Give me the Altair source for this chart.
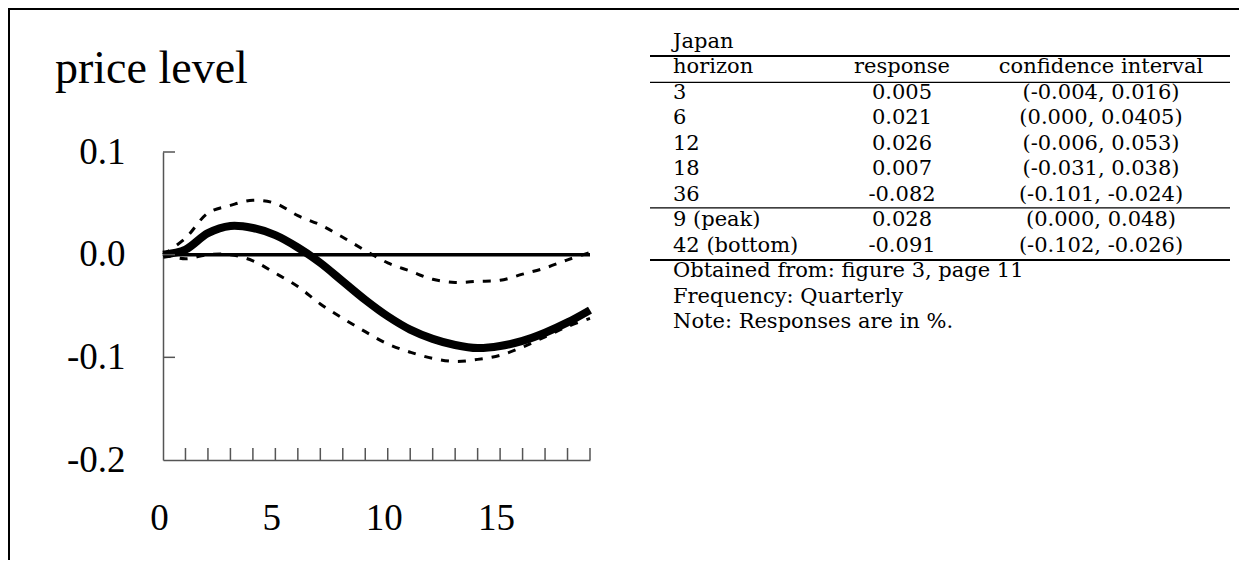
import altair as alt
import pandas as pd

# ---------------- data ----------------
quarters = list(range(20))
response = [0.000, 0.005, 0.021, 0.028, 0.026, 0.019, 0.007, -0.008, -0.026, -0.044,
            -0.060, -0.073, -0.082, -0.088, -0.091, -0.089, -0.084, -0.076, -0.066, -0.054]
upper = [0.000, 0.016, 0.0405, 0.048, 0.053, 0.050, 0.038, 0.029, 0.017, 0.004,
         -0.008, -0.016, -0.024, -0.027, -0.026, -0.025, -0.019, -0.013, -0.005, 0.002]
lower = [0.000, -0.004, 0.000, 0.000, -0.006, -0.018, -0.031, -0.048, -0.062, -0.075,
         -0.087, -0.095, -0.101, -0.104, -0.102, -0.098, -0.090, -0.080, -0.070, -0.062]

y_tick_values = [0.1, 0.0, -0.1, -0.2]
y_inner_ticks = [0.1, 0.0, -0.1]
x_label_values = [0, 5, 10, 15]
x_minor_ticks = list(range(1, 20))

title_text = "price level"

table_title = "Japan"
table_header = ["horizon", "response", "confidence interval"]
horizons = ["3", "6", "12", "18", "36", "9 (peak)", "42 (bottom)"]
responses = ["0.005", "0.021", "0.026", "0.007", "-0.082", "0.028", "-0.091"]
intervals = ["(-0.004, 0.016)", "(0.000, 0.0405)", "(-0.006, 0.053)", "(-0.031, 0.038)",
             "(-0.101, -0.024)", "(0.000, 0.048)", "(-0.102, -0.026)"]
notes = ["Obtained from: figure 3, page 11", "Frequency: Quarterly", "Note: Responses are in %."]

# ---------------- layout ----------------
W, H = 427, 308
SERIF_PLOT = "Liberation Serif"
SERIF_TABLE = "DejaVu Serif"
AXIS_GRAY = "#555555"
INTERP = "catmull-rom"

rule_lines = [0.31, 1.35, 6.28, 8.33]
rule_widths = [2.0, 1.3, 1.3, 2.0]
COL1_X, COL2_X, COL3_X = 510, 739, 938
RULE_X0, RULE_X1 = 487, 1067

xscale = alt.Scale(domain=[0, 19], nice=False, zero=False)
yscale = alt.Scale(domain=[-0.2, 0.1], nice=False, zero=False)

x_axis = alt.Axis(values=x_label_values, ticks=False, grid=False, domainColor=AXIS_GRAY,
                  domainWidth=1.5, labelFont=SERIF_PLOT, labelFontSize=37, labelColor="black",
                  labelPadding=69, labelBaseline="alphabetic", labelOffset=-4,
                  labelFlush=False, title=None)
y_axis = alt.Axis(values=y_tick_values, ticks=False, grid=False, domainColor=AXIS_GRAY,
                  domainWidth=1.5, labelFont=SERIF_PLOT, labelFontSize=37,
                  labelColor="black", labelPadding=38, labelFlush=False,
                  labelExpr="replace(format(datum.value, '.1f'), '\u2212', '-')",
                  title=None)


def x_enc(field):
    return alt.X(f"{field}:Q", scale=xscale, axis=x_axis)


def y_enc(field):
    return alt.Y(f"{field}:Q", scale=yscale, axis=y_axis)


df = pd.DataFrame({"q": quarters, "response": response, "upper": upper, "lower": lower})
base = alt.Chart(df)

upper_line = base.mark_line(color="black", strokeWidth=3, strokeDash=[8, 9],
                            interpolate=INTERP).encode(x=x_enc("q"), y=y_enc("upper"))
lower_line = base.mark_line(color="black", strokeWidth=3, strokeDash=[8, 9],
                            interpolate=INTERP).encode(x=x_enc("q"), y=y_enc("lower"))
resp_line = base.mark_line(color="black", strokeWidth=8,
                           interpolate=INTERP).encode(x=x_enc("q"), y=y_enc("response"))

zero_line = alt.Chart(pd.DataFrame({"q": [0, 19], "v": [0.0, 0.0]})).mark_line(
    color="black", strokeWidth=3.5
).encode(x=x_enc("q"), y=y_enc("v"))

y_ticks_layer = alt.Chart(pd.DataFrame({"v": y_inner_ticks})).mark_rule(
    color=AXIS_GRAY, strokeWidth=1.5
).encode(y=y_enc("v"), x=alt.value(0), x2=alt.value(12))

x_ticks_layer = alt.Chart(pd.DataFrame({"q": x_minor_ticks})).mark_rule(
    color=AXIS_GRAY, strokeWidth=1.5
).encode(x=x_enc("q"), y=alt.value(H), y2=alt.value(H - 12))

title_layer = alt.Chart(pd.DataFrame({"t": [title_text]})).mark_text(
    font=SERIF_PLOT, fontSize=46, align="left", baseline="alphabetic", color="black"
).encode(x=alt.value(-108), y=alt.value(-69), text="t:N")

border_left = alt.Chart(pd.DataFrame({"a": [0]})).mark_rule(color="black", strokeWidth=2).encode(
    x=alt.value(-154), y=alt.value(-143), y2=alt.value(420))
border_top = alt.Chart(pd.DataFrame({"a": [0]})).mark_rule(color="black", strokeWidth=2).encode(
    x=alt.value(-155), x2=alt.value(1080), y=alt.value(-143))

plot = alt.layer(zero_line, upper_line, lower_line, resp_line, y_ticks_layer, x_ticks_layer,
                 title_layer, border_left, border_top)

# ---------------- table ----------------
col1 = [table_title, table_header[0]] + horizons + notes
col1_lines = [0, 1] + list(range(2, 9)) + [9, 10, 11]
col2 = [table_header[1]] + responses
col3 = [table_header[2]] + intervals
col23_lines = [1] + list(range(2, 9))

tscale = alt.Scale(domain=[0, 11], range=[-104, 176])


def t_y():
    return alt.Y("line:Q", scale=tscale, axis=None)


t1 = alt.Chart(pd.DataFrame({"line": col1_lines, "txt": col1})).mark_text(
    font=SERIF_TABLE, fontSize=21, align="left", baseline="alphabetic", color="black"
).encode(x=alt.value(COL1_X), y=t_y(), text="txt:N")
t2 = alt.Chart(pd.DataFrame({"line": col23_lines, "txt": col2})).mark_text(
    font=SERIF_TABLE, fontSize=21, align="center", baseline="alphabetic", color="black"
).encode(x=alt.value(COL2_X), y=t_y(), text="txt:N")
t3 = alt.Chart(pd.DataFrame({"line": col23_lines, "txt": col3})).mark_text(
    font=SERIF_TABLE, fontSize=21, align="center", baseline="alphabetic", color="black"
).encode(x=alt.value(COL3_X), y=t_y(), text="txt:N")
trules = alt.Chart(pd.DataFrame({"line": rule_lines, "w": rule_widths})).mark_rule(
    color="black"
).encode(x=alt.value(RULE_X0), x2=alt.value(RULE_X1), y=t_y(),
         strokeWidth=alt.StrokeWidth("w:Q", scale=None, legend=None))

table = alt.layer(trules, t1, t2, t3)

chart = alt.layer(plot, table).resolve_scale(y="independent").properties(
    width=W, height=H,
    autosize=alt.AutoSizeParams(type="none"),
    padding={"left": 155, "top": 144, "right": 649, "bottom": 100},
    background="white",
).configure_view(stroke=None)

chart.save("out.html", embed_options={"renderer": "svg", "actions": False})
